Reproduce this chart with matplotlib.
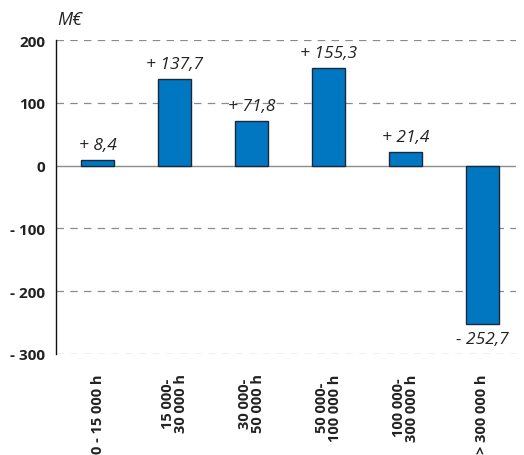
import numpy as np
import matplotlib
from matplotlib import pyplot as plt

categories = ["0 - 15 000 h", "15 000-\n30 000 h", "30 000-\n50 000 h",
              "50 000-\n100 000 h", "100 000-\n300 000 h", "> 300 000 h"]
values = [8.4, 137.7, 71.8, 155.3, 21.4, -252.7]
value_labels = ["+ 8,4", "+ 137,7", "+ 71,8", "+ 155,3", "+ 21,4", "- 252,7"]
yticks = [-300, -200, -100, 0, 100, 200]
ytick_labels = ["- 300", "- 200", "- 100", "0", "100", "200"]

matplotlib.rcParams['font.family'] = ['Open Sans', 'DejaVu Sans']

fig = plt.figure(figsize=(5.24, 4.56), dpi=100)
ax = fig.add_axes((0.107, 0.2215, 0.878, 0.6885))

x = np.arange(len(values))
bars = ax.bar(x, values, width=0.43, color='#0077c0', edgecolor='#1a2a3a',
              linewidth=1.0, zorder=3)

# etichette con i valori sopra/sotto le barre
for xi, v, lab in zip(x, values, value_labels):
    off = 5 if v >= 0 else -5
    ax.annotate(lab, (xi, v), xytext=(0, off), textcoords='offset points',
                ha='center', va='bottom' if v >= 0 else 'top',
                fontsize=12.5, style='italic', color='#222222', zorder=4)

# griglia tratteggiata
for yt in yticks:
    if yt != 0:
        ax.axhline(yt, color='#8c8c8c', linestyle=(0, (6, 5)),
                   linewidth=0.9, zorder=1)
ax.axhline(0, color='#8c8c8c', linewidth=1.0, zorder=2)

ax.set_ylim(-300, 200)
ax.set_xlim(-0.54, 5.44)
ax.set_yticks(yticks)
ax.set_yticklabels(ytick_labels, fontsize=11, fontweight='bold', color='#222222')
ax.set_xticks(x)
ax.set_xticklabels(categories, rotation=90, fontsize=10.5, fontweight='bold',
                   color='#222222', linespacing=0.92, va='top')
ax.tick_params(axis='both', length=0)
ax.tick_params(axis='y', pad=8)
ax.tick_params(axis='x', pad=14)

for s in ['top', 'right', 'bottom']:
    ax.spines[s].set_visible(False)
ax.spines['left'].set_color('#111111')
ax.spines['left'].set_linewidth(1.0)

fig.text(57 / 524, 1 - 20 / 456, "M€", fontsize=13, style='italic',
         color='#222222', va='center', ha='left')

fig.savefig("out.png", dpi=100)
